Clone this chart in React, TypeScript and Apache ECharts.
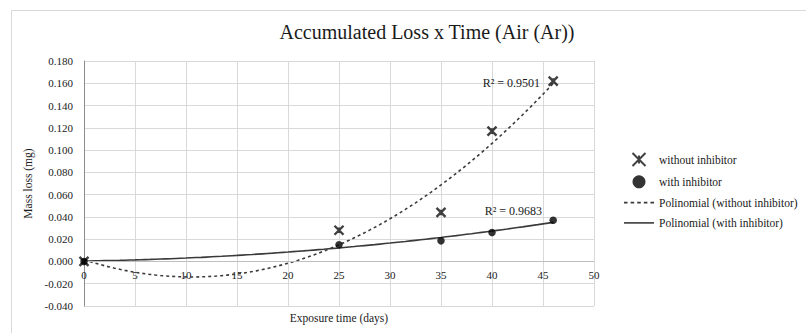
import React, { useEffect, useRef } from "react";
import * as echarts from "echarts";

const TITLE = "Accumulated Loss x Time (Air (Ar))";
const X_NAME = "Exposure time (days)";
const Y_NAME = "Mass loss (mg)";

const days = [0, 25, 35, 40, 46];
const withoutInhibitor = [0.0, 0.028, 0.044, 0.117, 0.162];
const withInhibitor = [0.0, 0.015, 0.0185, 0.026, 0.037];

const seriesNames = [
  "without inhibitor",
  "with inhibitor",
  "Polinomial (without inhibitor)",
  "Polinomial (with inhibitor)",
];
const r2Labels = ["R² = 0.9501", "R² = 0.9683"];
// label anchor positions in data coordinates [days, mg]
const r2Anchors: [number, number][] = [
  [41.9, 0.160],
  [42.1, 0.045],
];

const FONT = "Liberation Serif";
const CSS = `#root svg text, #root svg tspan { font-family: 'Liberation Serif', 'Times New Roman', serif !important; }`;

// least-squares quadratic fit (what the chart's polynomial trendline is)
function polyfit2(xs: number[], ys: number[]) {
  let n = xs.length, sx = 0, sx2 = 0, sx3 = 0, sx4 = 0, sy = 0, sxy = 0, sx2y = 0;
  for (let i = 0; i < n; i++) {
    const x = xs[i], y = ys[i];
    sx += x; sx2 += x * x; sx3 += x * x * x; sx4 += x * x * x * x;
    sy += y; sxy += x * y; sx2y += x * x * y;
  }
  const M = [
    [n, sx, sx2],
    [sx, sx2, sx3],
    [sx2, sx3, sx4],
  ];
  const R = [sy, sxy, sx2y];
  const det = (m: number[][]) =>
    m[0][0] * (m[1][1] * m[2][2] - m[1][2] * m[2][1]) -
    m[0][1] * (m[1][0] * m[2][2] - m[1][2] * m[2][0]) +
    m[0][2] * (m[1][0] * m[2][1] - m[1][1] * m[2][0]);
  const D = det(M);
  const coef = [0, 1, 2].map((k) => {
    const mk = M.map((row, i) => row.map((v, j) => (j === k ? R[i] : v)));
    return det(mk) / D;
  });
  return coef; // c, b, a
}

function trend(xs: number[], ys: number[]) {
  const [c, b, a] = polyfit2(xs, ys);
  const pts: [number, number][] = [];
  const xmax = Math.max(...xs);
  for (let x = 0; x <= xmax + 1e-9; x += 0.5) pts.push([x, a * x * x + b * x + c]);
  return pts;
}

const STAR = "path://M1,1L9,9M9,1L1,9M5,2.5L5,7.5";
const ICON_SOLID = "path://M0,0H30V1.6H0Z";
const ICON_DASH =
  "path://M0,0H3.5V1.6H0ZM6.5,0H10V1.6H6.5ZM13,0H16.5V1.6H13ZM19.5,0H23V1.6H19.5ZM26,0H29.5V1.6H26Z";

export default function App() {
  const ref = useRef<HTMLDivElement>(null);
  useEffect(() => {
    if (!ref.current) return;
    const chart = echarts.init(ref.current, undefined, { renderer: "svg" });
    const textColor = "#1a1a1a";
    chart.setOption({
      animation: false,
      backgroundColor: "#ffffff",
      title: {
        text: TITLE,
        left: 422,
        top: 17,
        textAlign: "center",
        textStyle: { fontFamily: FONT, fontSize: 20, fontWeight: "normal", color: "#1a1a1a" },
      },
      graphic: [
        {
          type: "rect",
          shape: { x: 11.5, y: 10.5, width: 820, height: 340 },
          style: { fill: "none", stroke: "#d9d9d9", lineWidth: 1 },
          silent: true,
          z: -1,
        },
      ],
      legend: {
        orient: "vertical",
        left: 619,
        top: 147,
        itemWidth: 30,
        itemHeight: 13,
        itemGap: 8.3,
        data: [
          { name: seriesNames[0] },
          { name: seriesNames[1] },
          { name: seriesNames[2], icon: ICON_DASH },
          { name: seriesNames[3], icon: ICON_SOLID },
        ],
        textStyle: { fontFamily: FONT, fontSize: 11.5, color: textColor },
      },
      grid: {
        left: 84,
        top: 61,
        right: 212,
        bottom: 27,
        containLabel: false,
        outerBoundsMode: "none",
      },
      xAxis: {
        type: "value",
        min: 0,
        max: 50,
        interval: 5,
        name: X_NAME,
        nameLocation: "middle",
        nameGap: 4,
        nameTextStyle: { fontFamily: FONT, fontSize: 11.5, color: textColor, verticalAlign: "top" },
        axisLine: { show: false, onZero: false },
        axisTick: { show: false },
        axisLabel: { fontFamily: FONT, fontSize: 11, color: textColor, margin: -37 },
        splitLine: { show: true, lineStyle: { color: "#d9d9d9", width: 1 } },
      },
      yAxis: {
        type: "value",
        min: -0.04,
        max: 0.18,
        interval: 0.02,
        name: Y_NAME,
        nameLocation: "middle",
        nameGap: 42,
        nameRotate: 90,
        nameTextStyle: { fontFamily: FONT, fontSize: 11.5, color: textColor },
        axisLine: { show: true, onZero: false, lineStyle: { color: "#8c8c8c", width: 1 } },
        axisTick: { show: false },
        axisLabel: {
          fontFamily: FONT,
          fontSize: 11,
          color: textColor,
          margin: 11,
          formatter: (v: number) => v.toFixed(3),
        },
        splitLine: { show: true, lineStyle: { color: "#d9d9d9", width: 1 } },
      },
      series: [
        {
          name: seriesNames[0],
          type: "scatter",
          symbol: STAR,
          symbolSize: 9,
          itemStyle: { color: "rgba(0,0,0,0)", borderColor: "#111", borderWidth: 2.4 },
          data: days.map((d, i) => [d, withoutInhibitor[i]]),
          z: 5,
        },
        {
          name: seriesNames[1],
          type: "scatter",
          symbol: "circle",
          symbolSize: 7.5,
          itemStyle: { color: "#000" },
          data: days.map((d, i) => [d, withInhibitor[i]]),
          z: 5,
        },
        {
          name: seriesNames[2],
          type: "line",
          symbol: "none",
          smooth: false,
          lineStyle: { color: "#3a3a3a", width: 1.6, type: [3, 3] },
          itemStyle: { color: "#3a3a3a" },
          data: trend(days, withoutInhibitor),
          z: 3,
          markPoint: {
            symbol: "circle",
            symbolSize: 0,
            silent: true,
            label: {
              show: true,
              formatter: r2Labels[0],
              fontFamily: FONT,
              fontSize: 12,
              color: textColor,
            },
            data: [{ coord: r2Anchors[0] }],
          },
        },
        {
          name: seriesNames[3],
          type: "line",
          symbol: "none",
          lineStyle: { color: "#3a3a3a", width: 1.6 },
          itemStyle: { color: "#3a3a3a" },
          data: trend(days, withInhibitor),
          z: 3,
          markLine: {
            silent: true,
            symbol: "none",
            label: { show: false },
            lineStyle: { color: "#bfbfbf", width: 1, type: "solid" },
            data: [{ yAxis: 0 }],
          },
          markPoint: {
            symbol: "circle",
            symbolSize: 0,
            silent: true,
            label: {
              show: true,
              formatter: r2Labels[1],
              fontFamily: FONT,
              fontSize: 12,
              color: textColor,
            },
            data: [{ coord: r2Anchors[1] }],
          },
        },
      ],
    });
    return () => chart.dispose();
  }, []);
  return (
    <>
      <style>{CSS}</style>
      <div
        ref={ref}
        style={{ position: "absolute", left: 0, top: 0, width: 806, height: 333, background: "#fff" }}
      />
    </>
  );
}
